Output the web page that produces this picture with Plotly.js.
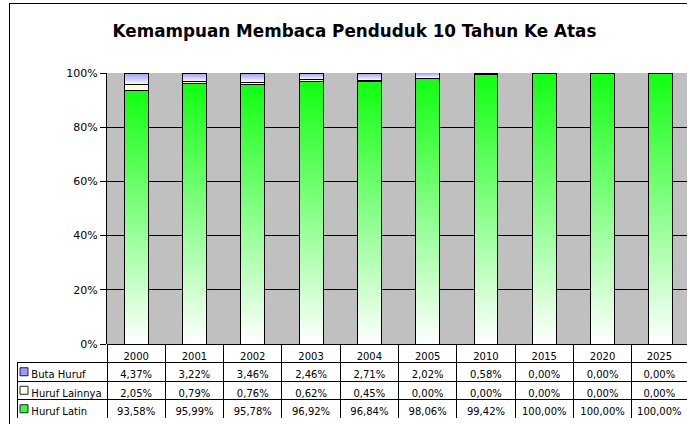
<!DOCTYPE html>
<html>
<head>
<meta charset="utf-8">
<script src="https://cdn.plot.ly/plotly-3.0.1.min.js"></script>
<style>
  html, body { margin: 0; padding: 0; background: #fff; overflow: hidden; }
  #wrap { position: relative; width: 687px; height: 424px; overflow: hidden; }
  #chart { position: absolute; left: 0; top: 0; width: 687px; height: 424px; }
  #frame { position: absolute; left: 9px; top: 3px; width: 720px; height: 440px;
           border: 1px solid #000; pointer-events: none; }
</style>
</head>
<body>
<div id="wrap">
  <div id="chart"></div>
  <div id="frame"></div>
</div>
<script>
// ---- data ----
const years = ['2000','2001','2002','2003','2004','2005','2010','2015','2020','2025'];
const butaHuruf    = [4.37, 3.22, 3.46, 2.46, 2.71, 2.02, 0.58, 0.00, 0.00, 0.00];
const hurufLainnya = [2.05, 0.79, 0.76, 0.62, 0.45, 0.00, 0.00, 0.00, 0.00, 0.00];
const hurufLatin   = [93.58, 95.99, 95.78, 96.92, 96.84, 98.06, 99.42, 100.00, 100.00, 100.00];
const seriesNames  = ['Buta Huruf', 'Huruf Lainnya', 'Huruf Latin'];
const yTicks = [0, 20, 40, 60, 80, 100];
const yTickText = ['0%', '20%', '40%', '60%', '80%', '100%'];

// ---- geometry helpers (pixels of the 687x424 canvas) ----
const W = 687, H = 424;
const padL = 17, padT = 73, padB = 6;
const plotLeft = 107, plotBottom = 344;
const paperW = W - padL, paperH = H - padT - padB;
const catW = 58.3;
const tableTopFrac = (H - padB - plotBottom) / paperH;
const rowH = ((H - padB) - plotBottom) / 4;
const px2x = p => (p - padL) / paperW;
const px2y = p => (H - padB - p) / paperH;

const fmt = v => v.toFixed(2).replace('.', ',') + '%';
const nb = s => s.replace(/ /g, '\u00A0');

const lineSpec = { color: '#000', width: 1 };
function barTrace(name, y, color) {
  return { type: 'bar', name: name, x: years, y: y, hoverinfo: 'skip', showlegend: false,
           marker: { color: color, line: lineSpec } };
}
const tLatin   = barTrace(seriesNames[2], hurufLatin,   '#22FF22');
const tLainnya = barTrace(seriesNames[1], hurufLainnya, '#FFFFCC');
const tButa    = barTrace(seriesNames[0], butaHuruf,    '#9999FF');

const PRE = '\u00A0\u00A0';
const colVals = [seriesNames.map(s => PRE + nb(s))];
years.forEach((yr, i) => colVals.push([fmt(butaHuruf[i]), fmt(hurufLainnya[i]), fmt(hurufLatin[i])]));

const widths = [plotLeft - padL];
for (let i = 0; i < years.length; i++) widths.push(catW);
widths[widths.length - 1] = paperW - (plotLeft - padL) - catW * (years.length - 1);

const headerLine = ['rgba(0,0,0,0)'].concat(years.map(() => '#000'));
const headerFill = ['rgba(0,0,0,0)'].concat(years.map(() => '#fff'));
const aligns = ['left'].concat(years.map(() => 'center'));

const table = {
  type: 'table',
  domain: { x: [0, 1], y: [0, tableTopFrac] },
  columnwidth: widths,
  header: {
    values: [''].concat(years),
    height: rowH,
    fill: { color: headerFill },
    line: { color: headerLine, width: 1 },
    font: { family: 'DejaVu Sans', size: 10, color: '#000' },
    align: 'center'
  },
  cells: {
    values: colVals,
    height: rowH,
    fill: { color: '#fff' },
    line: { color: '#000', width: 1 },
    font: { family: 'DejaVu Sans', size: 10, color: '#000' },
    align: aligns
  }
};

const keyColors = ['#9999FF', '#FFFFCC', '#33FF33'];
const shapes = keyColors.map((c, k) => {
  const cy = plotBottom + rowH * (k + 1.5);
  return { type: 'rect', xref: 'paper', yref: 'paper',
    x0: px2x(20), x1: px2x(28), y0: px2y(cy + 4), y1: px2y(cy - 4),
    fillcolor: c, line: { color: '#222244', width: 1 } };
});

const layout = {
  width: W, height: H,
  margin: { l: padL, r: 0, t: padT, b: padB, pad: 0 },
  paper_bgcolor: '#fff',
  plot_bgcolor: '#C0C0C0',
  barmode: 'stack',
  bargap: 0.59,
  title: { text: 'Kemampuan Membaca Penduduk 10 Tahun Ke Atas', xref: 'container', x: 354.5 / W, xanchor: 'center',
           yref: 'container', y: 1 - 31 / H, yanchor: 'middle',
           font: { family: 'DejaVu Sans', size: 16.8, color: '#000', weight: 'bold' } },
  xaxis: { type: 'category', domain: [px2x(plotLeft), 1], range: [-0.5, 9.5 - (plotLeft + catW * 10 - W) / catW],
           showticklabels: false, ticks: '', showgrid: false, zeroline: false, showline: false, fixedrange: true },
  yaxis: { domain: [tableTopFrac, 1], range: [0, 100], tickmode: 'array', tickvals: yTicks, ticktext: yTickText,
           ticks: 'outside', ticklen: 6, tickcolor: '#000', tickwidth: 1,
           showgrid: true, gridcolor: '#000', gridwidth: 1, zeroline: false,
           showline: true, linecolor: '#000', linewidth: 1,
           tickfont: { family: 'DejaVu Sans', size: 11, color: '#000' }, fixedrange: true },
  shapes: shapes
};

const gd = document.getElementById('chart');
Plotly.newPlot(gd, [tLatin, tLainnya, tButa, table], layout, { staticPlot: true, displayModeBar: false }).then(() => {
  const svg = gd.querySelector('.main-svg');
  const defs = svg.querySelector('defs');
  const NS = 'http://www.w3.org/2000/svg';
  function grad(id, top, bottom) {
    const g = document.createElementNS(NS, 'linearGradient');
    g.setAttribute('id', id);
    g.setAttribute('x1', '0'); g.setAttribute('y1', '0');
    g.setAttribute('x2', '0'); g.setAttribute('y2', '1');
    [[0, top], [1, bottom]].forEach(([o, c]) => {
      const s = document.createElementNS(NS, 'stop');
      s.setAttribute('offset', o); s.setAttribute('stop-color', c);
      g.appendChild(s);
    });
    defs.appendChild(g);
  }
  grad('gLatin', '#11FF11', '#FFFFFF');
  grad('gButa', '#9999FF', '#FFFFFF');
  const traces = gd.querySelectorAll('.barlayer .trace');
  const fills = ['url(#gLatin)', null, 'url(#gButa)'];
  traces.forEach((tr, i) => {
    if (!fills[i]) return;
    tr.querySelectorAll('.point path').forEach(p => { p.style.fill = fills[i]; });
  });
});
</script>
</body>
</html>
